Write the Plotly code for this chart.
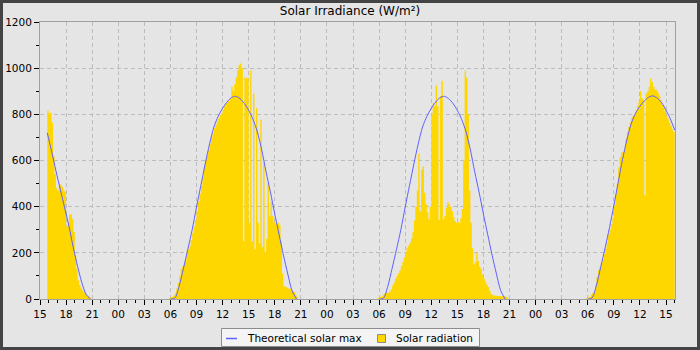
import pandas as pd
import plotly.graph_objects as go

# ---------------- data ----------------
# Solar radiation, 10-minute samples, W/m2
day1_rad_start = "2024-06-17 15:50"
day1_rad = [815, 805, 807, 765, 620, 540, 480, 470, 495, 495, 485, 470, 465, 315, 335,
            365, 368, 345, 290, 190, 130, 80, 60, 45, 38, 28, 22, 15, 12, 6]

day2_rad_start = "2024-06-18 05:50"
day2_rad = [4, 8, 10, 15, 25, 45, 70, 97, 130, 140, 147, 165, 205, 215, 230, 256, 285, 313,
            342, 378, 420, 455, 490, 530, 575, 605, 620, 645, 670, 700, 718, 740, 755, 770,
            783, 797, 804, 819, 835, 848, 852, 858, 869, 920, 900, 930, 960, 990, 1014,
            1020, 1000, 250, 960, 958, 955, 330, 990, 250, 890, 215, 826, 330, 240, 776, 225,
            590, 205, 260, 500, 357, 420, 360, 335, 328, 325, 330, 320, 250, 110, 55, 53, 50,
            46, 45, 40, 35, 30, 20, 10]

day3_rad_start = "2024-06-19 05:50"
day3_rad = [5, 8, 10, 15, 22, 25, 27, 28, 33, 42, 58, 72, 88, 100, 112, 125, 142, 160, 180,
            205, 222, 232, 245, 262, 290, 340, 400, 470, 630, 380, 560, 575, 460, 410, 375,
            345, 400, 800, 850, 835, 925, 835, 342, 880, 945, 345, 360, 395, 420,
            410, 400, 380, 355, 338, 330, 335, 330, 350, 390, 600, 990, 960, 800, 470, 330,
            220, 150, 160, 200, 165, 140, 130, 105, 88, 75, 62, 52, 35, 22, 17, 15, 14, 14,
            13, 13, 12, 12, 12, 10, 8]

day4_rad_start = "2024-06-20 05:50"
day4_rad = [4, 7, 10, 17, 25, 33, 58, 95, 125, 140, 155, 170, 195, 218, 245, 280, 300, 325,
            350, 405, 455, 500, 570, 615, 635, 635, 650, 695, 725, 745, 765, 785, 795, 800,
            818, 838, 855, 900, 870, 862, 450, 890, 900, 920, 955, 940, 920, 908, 905, 895,
            880, 862, 842, 833, 815, 795, 780, 765, 750, 735, 725]

# Theoretical solar max, 30-minute samples, W/m2
day1_max_start = "2024-06-17 15:50"
day1_max = [720, 640, 555, 475, 395, 315, 222, 140, 68, 18, 0]

day2_max_start = "2024-06-18 06:00"
day2_max = [0, 3, 55, 133, 215, 300, 398, 492, 585, 672, 745, 792, 826, 853, 872, 878,
            868, 847, 817, 778, 724, 646, 551, 463, 368, 278, 190, 108, 35, 0]

day3_max_start = "2024-06-19 06:00"
day3_max = [0, 3, 55, 133, 215, 300, 398, 492, 585, 672, 745, 792, 826, 853, 872, 878,
            868, 847, 817, 778, 724, 646, 551, 463, 368, 278, 190, 108, 35, 0]

day4_max_start = "2024-06-20 06:00"
day4_max = [0, 5, 60, 140, 222, 310, 405, 505, 605, 690, 760, 805, 835, 858, 874, 880,
            870, 850, 818, 780, 732]

x_start = "2024-06-17 15:00"
x_end = "2024-06-20 16:02"

series_names = ["Theoretical solar max", "Solar radiation"]
BAR_COLOR = "#FFD700"
LINE_COLOR = "#6060FF"

FONT = "DejaVu Sans"
fig = go.Figure()

# ---------------- solar radiation: stepped filled area per day ----------------
for start, vals in [(day1_rad_start, day1_rad), (day2_rad_start, day2_rad),
                    (day3_rad_start, day3_rad), (day4_rad_start, day4_rad)]:
    t = pd.date_range(start, periods=len(vals) + 1, freq="10min")
    fig.add_trace(go.Scatter(
        x=list(t), y=list(vals) + [0], name=series_names[1], mode="lines",
        line=dict(color=BAR_COLOR, width=0, shape="hv"),
        fill="tozeroy", fillcolor=BAR_COLOR,
        hoverinfo="skip", showlegend=False,
    ))

# ---------------- theoretical max line ----------------
max_x, max_y = [], []
for start, vals in [(day1_max_start, day1_max), (day2_max_start, day2_max),
                    (day3_max_start, day3_max), (day4_max_start, day4_max)]:
    t = pd.date_range(start, periods=len(vals), freq="30min")
    max_x.extend(list(t) + [None])
    max_y.extend(vals + [None])

fig.add_trace(go.Scatter(
    x=max_x, y=max_y, name=series_names[0], mode="lines",
    line=dict(color=LINE_COLOR, width=1, shape="spline", smoothing=0.8),
    connectgaps=False, hoverinfo="skip", showlegend=False,
))

# pixel -> paper helpers (layout geometry)
W, H = 700, 350
ml, mr, mt, mb = 40, 25, 22, 51
pw, ph = W - ml - mr, H - mt - mb


def px(x):
    return (x - ml) / pw


def py(y):
    return (mt + ph - y) / ph


# outer dark frame
fig.add_shape(type="rect", xref="paper", yref="paper",
              x0=px(1.5), x1=px(W - 1.5), y0=py(H - 1.5), y1=py(1.5),
              line=dict(color="#444444", width=3), fillcolor="rgba(0,0,0,0)", layer="above")

# hand-built legend
fig.add_shape(type="rect", xref="paper", yref="paper",
              x0=px(221.5), x1=px(479.5), y0=py(346.5), y1=py(328.5),
              line=dict(color="#8c8c8c", width=1), fillcolor="#f4f4f4", layer="above")
fig.add_shape(type="line", xref="paper", yref="paper",
              x0=px(226), x1=px(237), y0=py(338.5), y1=py(338.5),
              line=dict(color=LINE_COLOR, width=1.5), layer="above")
fig.add_shape(type="rect", xref="paper", yref="paper",
              x0=px(377.5), x1=px(385.5), y0=py(342.5), y1=py(334.5),
              line=dict(color="#8c8c8c", width=1), fillcolor=BAR_COLOR, layer="above")
fig.add_annotation(xref="paper", yref="paper", x=px(245), y=py(338), text=series_names[0],
                   showarrow=False, xanchor="left", yanchor="middle",
                   font=dict(family=FONT, size=10.5, color="#000"))
fig.add_annotation(xref="paper", yref="paper", x=px(394), y=py(338), text=series_names[1],
                   showarrow=False, xanchor="left", yanchor="middle",
                   font=dict(family=FONT, size=10.5, color="#000"))

fig.update_layout(
    width=W, height=H,
    margin=dict(l=ml, r=mr, t=mt, b=mb, pad=0, autoexpand=False),
    paper_bgcolor="#e5e5e5", plot_bgcolor="#e5e5e5",
    font=dict(family=FONT, size=10.5, color="#000"),
    showlegend=False,
    title=dict(text="Solar Irradiance (W/m²)", x=0.5, xref="container", xanchor="center",
               y=1 - 11 / H, yref="container", yanchor="middle",
               font=dict(family=FONT, size=12, color="#000")),
    xaxis=dict(type="date", range=[x_start, x_end], dtick=3 * 3600000, tickformat="%H",
               ticks="outside", ticklen=5, tickcolor="#000", tickwidth=1,
               showgrid=True, gridcolor="#bdbdbd", griddash="4px,3px", gridwidth=1,
               showline=True, linecolor="#a0a0a0", linewidth=1, mirror=True,
               minor=dict(dtick=3600000, ticks="outside", ticklen=3, tickcolor="#000",
                          showgrid=False),
               tickfont=dict(family=FONT, size=10.5, color="#000"), zeroline=False,
               automargin=False),
    yaxis=dict(range=[0, 1200], dtick=200, ticks="outside", ticklen=5, tickcolor="#000",
               tickwidth=1, showgrid=True, gridcolor="#bdbdbd", griddash="4px,3px",
               gridwidth=1, showline=True, linecolor="#a0a0a0", linewidth=1, mirror=True,
               minor=dict(dtick=100, ticks="outside", ticklen=3, tickcolor="#000",
                          showgrid=False),
               tickfont=dict(family=FONT, size=10.5, color="#000"), zeroline=False,
               automargin=False),
)

fig.write_html("out.html", config={"displayModeBar": False})
